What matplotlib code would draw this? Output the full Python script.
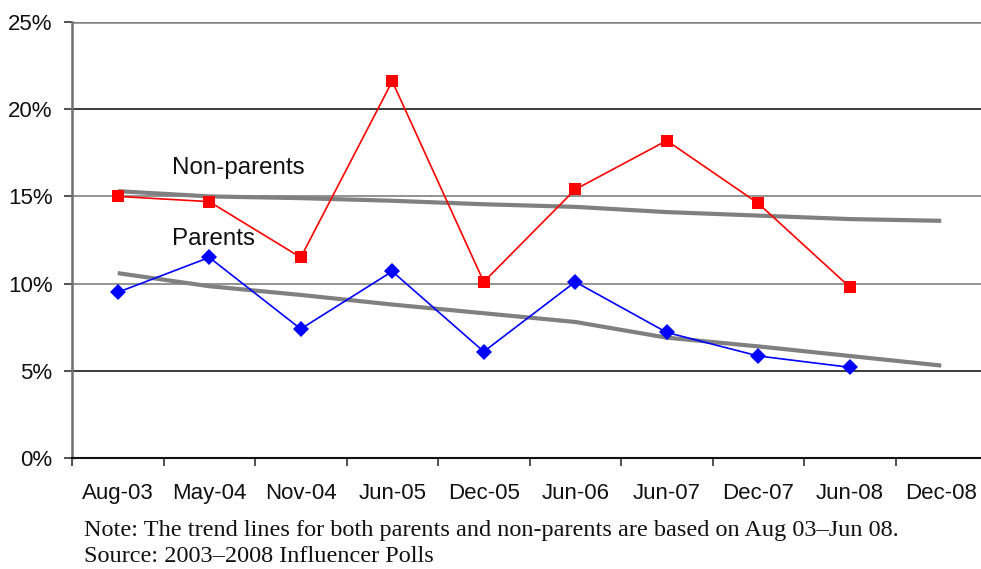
import matplotlib
matplotlib.use("Agg")
import matplotlib.pyplot as plt
from matplotlib.ticker import FixedLocator, PercentFormatter

# Poll dates (category axis)
categories = ["Aug-03", "May-04", "Nov-04", "Jun-05", "Dec-05",
              "Jun-06", "Jun-07", "Dec-07", "Jun-08", "Dec-08"]

# Share of respondents (%) - polls through Jun-08
non_parents = [15.0, 14.7, 11.5, 21.6, 10.1, 15.4, 18.2, 14.6, 9.8]
parents = [9.5, 11.5, 7.4, 10.7, 6.1, 10.1, 7.2, 5.85, 5.2]

# Trend lines, extended to Dec-08
non_parents_trend = [15.3, 15.0, 14.9, 14.75, 14.55, 14.4, 14.1, 13.9, 13.7, 13.6]
parents_trend = [10.6, 9.85, 9.35, 8.8, 8.3, 7.8, 6.9, 6.4, 5.85, 5.3]

y_ticks = [0, 5, 10, 15, 20, 25]

W, H = 981, 569
fig = plt.figure(figsize=(W / 100, H / 100), dpi=100)
left, right, top, bottom = 72, 987, 22, 458
ax = fig.add_axes([left / W, 1 - bottom / H, (right - left) / W, (bottom - top) / H])

x_all = list(range(len(categories)))
x_obs = x_all[:len(non_parents)]

# Gridlines
ax.set_ylim(0, 25)
ax.set_xlim(-0.5, len(categories) - 0.5)
ax.set_yticks(y_ticks)
ax.yaxis.set_major_formatter(PercentFormatter(decimals=0))
ax.grid(axis="y", linewidth=1.2, zorder=0)
grid_colors = {0: "none", 5: "#1a1a1a", 10: "#808080", 15: "#808080",
               20: "#1a1a1a", 25: "#808080"}
for val, gl in zip(y_ticks, ax.get_ygridlines()):
    gl.set_color(grid_colors[val])
    if val == 25:
        gl.set_linewidth(1.8)

# Trend lines
ax.plot(x_all, non_parents_trend, color="#808080", linewidth=3.0, zorder=2,
        solid_capstyle="butt")
ax.plot(x_all, parents_trend, color="#808080", linewidth=3.0, zorder=2,
        solid_capstyle="butt")

# Poll series
ax.plot(x_obs, non_parents, color="#ff0000", linewidth=1.2, marker="s",
        markersize=8, markeredgewidth=0, zorder=3)
ax.plot(x_obs, parents, color="#0000ff", linewidth=1.2, marker="D",
        markersize=8, markeredgewidth=0, zorder=3)

# Series labels
ax.text(0.59, 16.65, "Non-parents", fontsize=17.4, family="Liberation Sans",
        ha="left", va="center", color="#111111")
ax.text(0.59, 12.55, "Parents", fontsize=17.4, family="Liberation Sans",
        ha="left", va="center", color="#111111")

# Axes styling
for side in ("top", "right"):
    ax.spines[side].set_visible(False)
ax.spines["left"].set_color("#707070")
ax.spines["left"].set_linewidth(1.8)
ax.spines["bottom"].set_color("#111111")
ax.spines["bottom"].set_linewidth(1.5)

ax.set_xticks(x_all)
ax.set_xticklabels(categories)
ax.xaxis.set_minor_locator(FixedLocator([i - 0.5 for i in range(len(categories) + 1)]))
ax.tick_params(axis="x", which="major", length=0, pad=18)
ax.tick_params(axis="x", which="minor", length=6, width=1.2, color="#333333")
ax.tick_params(axis="y", which="major", length=6, width=1.2, color="#333333", pad=8)
for lbl in ax.get_xticklabels() + ax.get_yticklabels():
    lbl.set_fontfamily("Liberation Sans")
    lbl.set_fontsize(16)
    lbl.set_color("#111111")

# Footnotes
fig.text(84 / W, 1 - 536 / H,
         "Note: The trend lines for both parents and non-parents are based on Aug 03\u2013Jun 08.",
         fontsize=17.5, family="Liberation Serif", ha="left", va="baseline", color="#111111")
fig.text(84 / W, 1 - 562 / H, "Source: 2003\u20132008 Influencer Polls",
         fontsize=17.5, family="Liberation Serif", ha="left", va="baseline", color="#111111")

fig.savefig("out.png", dpi=100)
